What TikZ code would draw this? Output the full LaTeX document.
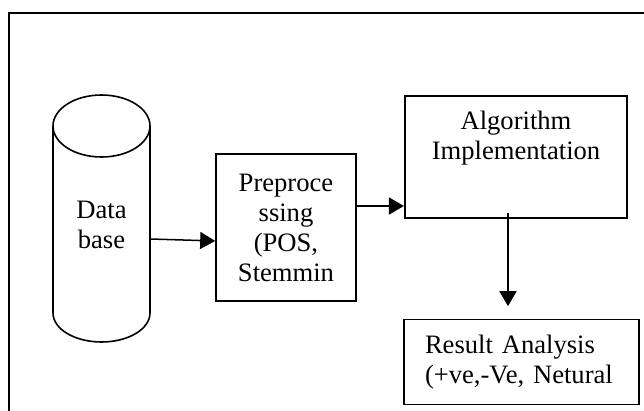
\documentclass[tikz,border=0pt]{standalone}
\usepackage{fontspec}
\setmainfont{Liberation Serif}
\usepackage{tikz}
\usetikzlibrary{arrows.meta, positioning, calc}

\begin{document}
\begin{tikzpicture}[x=0.5pt, y=-0.5pt, line width=0.8pt,
  every node/.style={font=\fontsize{13.3}{15}\selectfont, align=center},
  box/.style={draw, rectangle, inner sep=0pt},
  arr/.style={-{Triangle[length=7.5pt, width=8.5pt]}, line width=0.75pt}]
\useasboundingbox (0,0) rectangle (644,411);
% outer frame, runs off the right and bottom edges
\draw (644,13) -- (9,13) -- (9,411);
% database cylinder
\draw (101.5,126) ellipse [x radius=24.25pt, y radius=15.5pt];
\draw (53,126) -- (53,313) arc[start angle=180, end angle=360, x radius=24.25pt, y radius=14.5pt] -- (150,126);
\node[minimum width=48.5pt, inner sep=0pt] (db) at (101.5,225) {Data\\base};
% preprocessing step
\node[box, minimum width=70pt, minimum height=73.5pt] (pre) at (286,227.5) {Preproce\\ssing\\(POS,\\Stemmin};
% algorithm box, its text sits at the top
\node[box, minimum width=111.25pt, minimum height=61.25pt] (alg) at (516,157) {};
\node (algtxt) at (516,138.5) {Algorithm\\Implementation};
% result box
\node[box, minimum width=117.5pt, minimum height=42.5pt, text width=96.5pt, inner xsep=10.5pt, align=left] (res) at (521.5,362) {Result Analysis\\(+ve,-Ve, Netural};
% connectors
\draw[arr] ([yshift=-7pt]db.east) -- ([yshift=-6.75pt]pre.west);
\draw[arr] ([yshift=10.75pt]pre.east) coordinate (p1) -- (p1 -| alg.west);
\draw[arr] ([xshift=-4pt, yshift=3pt]alg.south) coordinate (p2) -- ($(p2 |- res.north)+(0,6.25pt)$);
\end{tikzpicture}
\end{document}
